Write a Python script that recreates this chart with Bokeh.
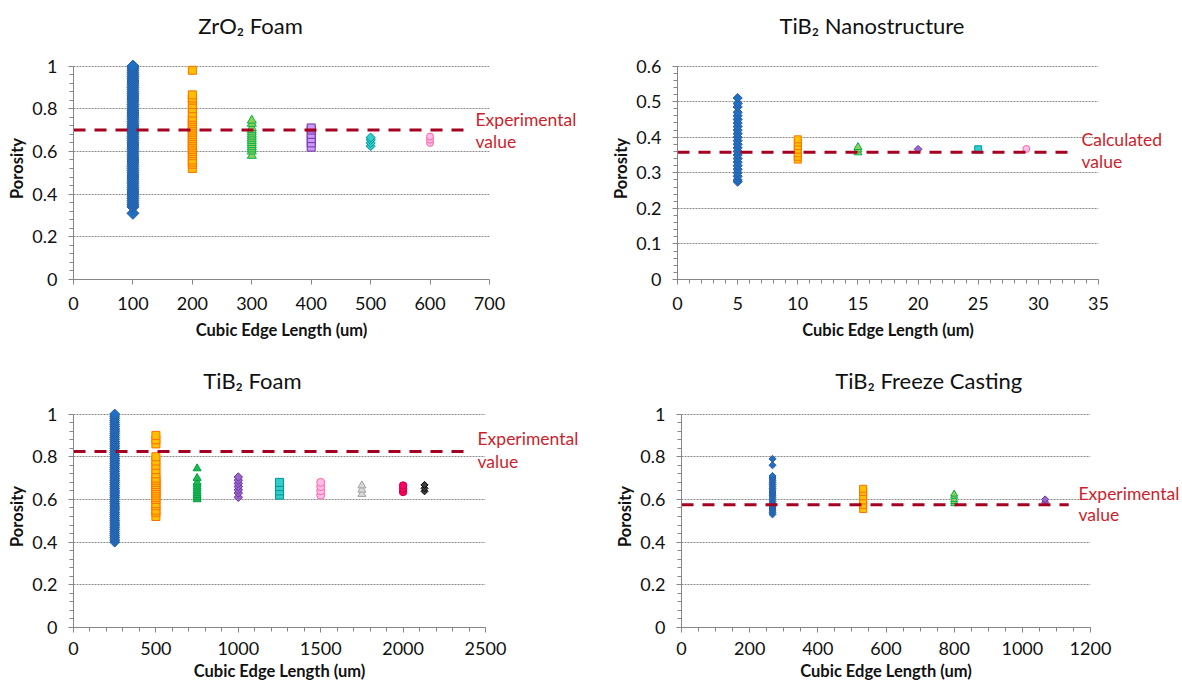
import math
from bokeh.plotting import figure
from bokeh.models import Range1d, FixedTicker, LinearAxis, CustomJSTickFormatter
from bokeh.layouts import column, row
from bokeh.embed import file_html
from bokeh.resources import INLINE

FONT = "Lato"

# ---------------- ZrO2 Foam ----------------
zr_title = "ZrO\u2082 Foam"
zr_x = [100, 200, 300, 400, 500, 600]
zr_100 = [0.31, 0.34, 0.35, 0.36, 0.37, 0.38, 0.39, 0.40, 0.41, 0.42, 0.43, 0.44, 0.45,
          0.46, 0.47, 0.48, 0.49, 0.50, 0.51, 0.52, 0.53, 0.54, 0.55, 0.56, 0.57, 0.58,
          0.59, 0.60, 0.61, 0.62, 0.63, 0.64, 0.65, 0.66, 0.67, 0.68, 0.69, 0.70, 0.71,
          0.72, 0.73, 0.74, 0.75, 0.76, 0.77, 0.78, 0.79, 0.80, 0.81, 0.82, 0.83, 0.84,
          0.85, 0.86, 0.87, 0.88, 0.89, 0.90, 0.91, 0.92, 0.93, 0.94, 0.95, 0.96, 0.97,
          0.98, 0.99, 1.00]
zr_200 = [0.52, 0.54, 0.55, 0.56, 0.58, 0.59, 0.60, 0.61, 0.62, 0.63, 0.64, 0.65, 0.66,
          0.67, 0.68, 0.69, 0.70, 0.71, 0.72, 0.73, 0.74, 0.75, 0.76, 0.78, 0.80, 0.82,
          0.84, 0.85, 0.865, 0.98]
zr_300 = [0.58, 0.60, 0.61, 0.62, 0.63, 0.64, 0.65, 0.66, 0.67, 0.68, 0.69, 0.70, 0.71,
          0.73, 0.745]
zr_400 = [0.62, 0.64, 0.66, 0.68, 0.70, 0.71]
zr_500 = [0.625, 0.64, 0.655, 0.665]
zr_600 = [0.64, 0.655, 0.67]
zr_ref_y = 0.70
zr_ref_x = [0, 660]
zr_ref_text = ["value", "Experimental"]

# ---------------- TiB2 Nanostructure ----------------
nano_title = "TiB\u2082 Nanostructure"
nano_x = [5, 10, 15, 20, 25, 29]
nano_5 = [0.275, 0.28, 0.29, 0.30, 0.31, 0.32, 0.33, 0.34, 0.35, 0.36, 0.37, 0.38,
          0.39, 0.40, 0.41, 0.42, 0.43, 0.44, 0.45, 0.46, 0.47, 0.485, 0.495, 0.51]
nano_10 = [0.337, 0.345, 0.355, 0.365, 0.375, 0.385, 0.394]
nano_15 = [0.357, 0.365, 0.372]
nano_20 = [0.366]
nano_25 = [0.366]
nano_29 = [0.367]
nano_ref_y = 0.358
nano_ref_x = [0, 32.8]
nano_ref_text = ["value", "Calculated"]

# ---------------- TiB2 Foam ----------------
foam_title = "TiB\u2082 Foam"
foam_x = [250, 500, 750, 1000, 1250, 1500, 1750, 2000, 2130]
foam_250 = [0.40, 0.41, 0.42, 0.43, 0.44, 0.45, 0.46, 0.47, 0.48, 0.49, 0.50, 0.51,
            0.52, 0.53, 0.54, 0.55, 0.56, 0.57, 0.58, 0.59, 0.60, 0.61, 0.62, 0.63,
            0.64, 0.65, 0.66, 0.67, 0.68, 0.69, 0.70, 0.71, 0.72, 0.73, 0.74, 0.75,
            0.76, 0.77, 0.78, 0.79, 0.80, 0.81, 0.82, 0.83, 0.84, 0.85, 0.86, 0.87,
            0.88, 0.89, 0.90, 0.91, 0.92, 0.93, 0.94, 0.95, 0.96, 0.97, 0.98, 0.99, 1.00]
foam_500 = [0.52, 0.54, 0.55, 0.57, 0.58, 0.60, 0.61, 0.62, 0.63, 0.64, 0.65, 0.66,
            0.67, 0.68, 0.69, 0.70, 0.72, 0.74, 0.76, 0.78, 0.80, 0.86, 0.88, 0.90]
foam_750 = [0.60, 0.61, 0.62, 0.63, 0.64, 0.65, 0.66, 0.67, 0.68, 0.70, 0.745]
foam_1000 = [0.61, 0.63, 0.645, 0.66, 0.675, 0.69, 0.705]
foam_1250 = [0.62, 0.64, 0.66, 0.68]
foam_1500 = [0.62, 0.64, 0.66, 0.68]
foam_1750 = [0.625, 0.645, 0.665]
foam_2000 = [0.635, 0.65, 0.665]
foam_2130 = [0.638, 0.652, 0.668]
foam_ref_y = 0.825
foam_ref_x = [0, 2390]
foam_ref_text = ["value", "Experimental"]

# ---------------- TiB2 Freeze Casting ----------------
fc_title = "TiB\u2082 Freeze Casting"
fc_x = [267, 533, 800, 1067]
fc_267 = [0.53, 0.54, 0.55, 0.56, 0.57, 0.58, 0.59, 0.60, 0.61, 0.62, 0.63, 0.64,
          0.65, 0.66, 0.67, 0.68, 0.69, 0.70, 0.71, 0.76, 0.79]
fc_533 = [0.555, 0.575, 0.595, 0.615, 0.635, 0.65]
fc_800 = [0.58, 0.59, 0.60, 0.615, 0.625]
fc_1067 = [0.587, 0.60]
fc_ref_y = 0.575
fc_ref_x = [0, 1136]
fc_ref_text = ["value", "Experimental"]

# marker styles: (marker, fill, line, angle)
DIAM = math.pi / 4
BLUE = ("square", "#1F6FC5", "#2A5C9E", DIAM)
ORANGE = ("square", "#FFC000", "#FF7000", 0)
GREEN = ("triangle", "#92D050", "#00B050", 0)
GREEN_D = ("triangle", "#1DB954", "#00A040", 0)
PURPLE_SQ = ("square", "#CC99FF", "#7030A0", 0)
PURPLE_DI = ("square", "#9966CC", "#7030A0", DIAM)
TEAL_DI = ("square", "#33CCCC", "#009999", DIAM)
TEAL_SQ = ("square", "#33CCCC", "#009999", 0)
PINK = ("circle", "#FFBBEE", "#FF6699", 0)
GREY = ("triangle", "#D9D9D9", "#A0A0A0", 0)
CRIMSON = ("circle", "#FF0066", "#D0003F", 0)
BLACK = ("square", "#404040", "#000000", DIAM)

GRID = "#8a8a8a"
AXIS = "#868686"
RED_LINE = "#A50021"
RED_TEXT = "#CC1F2B"
TXT = "#111111"


def yfmt():
    return CustomJSTickFormatter(code="return String(parseFloat(tick.toFixed(2)));")


def make_fig(w, h, borders, xr, yr, xticks, xminor, yticks, yminor, ybounds, xstand):
    bl, br, bt, bb = borders
    p = figure(width=w, height=h, x_range=Range1d(*xr), y_range=Range1d(*yr),
               output_backend="svg", toolbar_location=None,
               min_border_left=bl, min_border_right=br,
               min_border_top=bt, min_border_bottom=bb)
    p.outline_line_color = None
    p.background_fill_color = "white"
    p.border_fill_color = "white"
    p.xgrid.visible = False
    p.ygrid.ticker = FixedTicker(ticks=yticks)
    p.ygrid.grid_line_color = GRID
    p.ygrid.grid_line_dash = "2 1"
    p.ygrid.grid_line_width = 1

    xa = p.xaxis[0]
    xa.ticker = FixedTicker(ticks=xticks, minor_ticks=xminor)
    ya = p.yaxis[0]
    ya.ticker = FixedTicker(ticks=yticks, minor_ticks=yminor)
    ya.formatter = yfmt()
    ya.bounds = ybounds
    for ax in (xa, ya):
        ax.axis_line_color = AXIS
        ax.major_tick_line_color = AXIS
        ax.minor_tick_line_color = AXIS
        ax.major_tick_out = 5
        ax.major_tick_in = 0
        ax.minor_tick_out = 4
        ax.minor_tick_in = 0
        ax.major_label_text_font = FONT
        ax.major_label_text_font_size = "18px"
        ax.major_label_text_color = TXT
        ax.axis_label_text_font = FONT
        ax.axis_label_text_font_size = "16.5px"
        ax.axis_label_text_font_style = "bold"
        ax.axis_label_text_color = TXT
    xa.axis_label = "Cubic Edge Length (um)"
    xa.major_label_standoff = xstand[0]
    xa.axis_label_standoff = xstand[1]
    ya.axis_label = "Porosity"
    ya.major_label_standoff = 11
    ya.axis_label_standoff = 2
    return p


def add_series(p, xs, ys_list, styles, sizes):
    for xv, ys, st, sz in zip(xs, ys_list, styles, sizes):
        marker, fill, line, ang = st
        p.scatter(x=[xv] * len(ys), y=ys, marker=marker, size=sz, angle=ang,
                  fill_color=fill, line_color=line, line_width=1)


def text_axis(ticks, labels, color, size, standoff):
    ax = LinearAxis(ticker=FixedTicker(ticks=ticks, minor_ticks=[]),
                    formatter=CustomJSTickFormatter(args=dict(labels=labels),
                                                    code="return labels[index];"))
    ax.axis_line_color = None
    ax.major_tick_line_color = None
    ax.minor_tick_line_color = None
    ax.major_tick_out = 0
    ax.major_tick_in = 0
    ax.major_label_standoff = standoff
    ax.major_label_text_font = FONT
    ax.major_label_text_font_size = size
    ax.major_label_text_color = color
    return ax


def add_ref(p, xs, yv, labels, label_ys, standoff):
    p.line(x=xs, y=[yv] * len(xs), line_color=RED_LINE, line_width=3, line_dash="12 9")
    p.add_layout(text_axis(label_ys, labels, RED_TEXT, "17.5px", standoff), "right")


def add_title(p, text, xc, standoff):
    p.add_layout(text_axis([xc], [text], TXT, "22px", standoff), "above")


# ---- panel 1: ZrO2 Foam ----
p1 = make_fig(600, 342, (73, 111, 57, 63), (0, 700), (0, 1.04),
              [0, 100, 200, 300, 400, 500, 600, 700], [],
              [0, 0.2, 0.4, 0.6, 0.8, 1.0], [i * 0.04 for i in range(26)], (0, 1), (12, 7))
add_series(p1, zr_x, [zr_100, zr_200, zr_300, zr_400, zr_500, zr_600],
           [BLUE, ORANGE, GREEN, PURPLE_SQ, TEAL_DI, PINK], [8.5, 8, 9, 8, 6.5, 7])
add_ref(p1, zr_ref_x, zr_ref_y, zr_ref_text, [0.6455, 0.749], -14)
add_title(p1, zr_title, 297.8, 19)

# ---- panel 2: TiB2 Nanostructure ----
p2 = make_fig(582, 342, (77, 84, 57, 63), (0, 35), (0, 0.624),
              [0, 5, 10, 15, 20, 25, 30, 35], list(range(36)),
              [0, 0.1, 0.2, 0.3, 0.4, 0.5, 0.6], [i * 0.02 for i in range(31)], (0, 0.6),
              (12, 7))
add_series(p2, nano_x, [nano_5, nano_10, nano_15, nano_20, nano_25, nano_29],
           [BLUE, ORANGE, GREEN, PURPLE_DI, TEAL_SQ, PINK], [6.5, 7, 8, 5.5, 7, 7])
add_ref(p2, nano_ref_x, nano_ref_y, nano_ref_text, [0.331, 0.393], -17)
add_title(p2, nano_title, 16.17, 19)

# ---- panel 3: TiB2 Foam ----
p3 = make_fig(600, 344, (73, 115, 63, 59), (0, 2500), (0, 1.04),
              [0, 500, 1000, 1500, 2000, 2500], [i * 100 for i in range(26)],
              [0, 0.2, 0.4, 0.6, 0.8, 1.0], [i * 0.04 for i in range(26)], (0, 1), (9, 3))
add_series(p3, foam_x,
           [foam_250, foam_500, foam_750, foam_1000, foam_1250, foam_1500, foam_1750,
            foam_2000, foam_2130],
           [BLUE, ORANGE, GREEN_D, PURPLE_DI, TEAL_SQ, PINK, GREY, CRIMSON, BLACK],
           [7, 8, 8, 6, 8, 8, 8, 7.5, 5])
add_ref(p3, foam_ref_x, foam_ref_y, foam_ref_text, [0.7767, 0.8845], -8)
add_title(p3, foam_title, 1086, 12)

# ---- panel 4: TiB2 Freeze Casting ----
p4 = make_fig(582, 344, (81, 90, 63, 59), (0, 1200), (0, 1.04),
              [0, 200, 400, 600, 800, 1000, 1200], [i * 50 for i in range(25)],
              [0, 0.2, 0.4, 0.6, 0.8, 1.0], [i * 0.04 for i in range(26)], (0, 1), (9, 3))
add_series(p4, fc_x, [fc_267, fc_533, fc_800, fc_1067],
           [BLUE, ORANGE, GREEN, PURPLE_DI], [5, 7, 7, 5])
add_ref(p4, fc_ref_x, fc_ref_y, fc_ref_text, [0.528, 0.630], -12)
add_title(p4, fc_title, 725.5, 12)

layout = column(row(p1, p2), row(p3, p4))

open("out.html", "w").write(file_html(layout, INLINE))
